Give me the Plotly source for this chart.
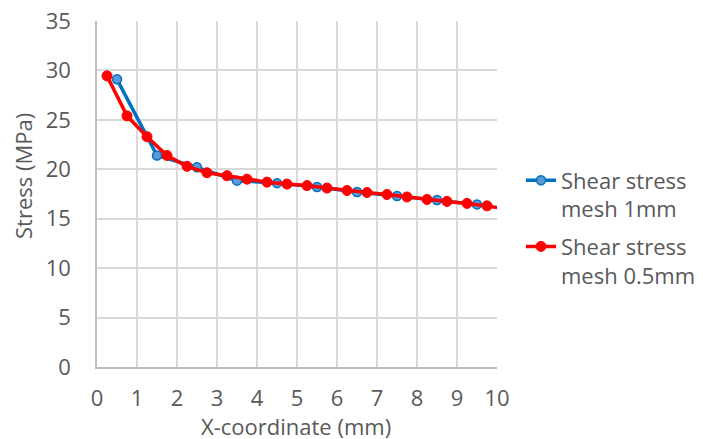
import plotly.graph_objects as go

# Data
x_mesh1 = [0.5, 1.5, 2.5, 3.5, 4.5, 5.5, 6.5, 7.5, 8.5, 9.5]
y_mesh1 = [29.1, 21.4, 20.2, 18.85, 18.6, 18.2, 17.7, 17.3, 16.9, 16.45]

x_mesh05 = [0.25, 0.75, 1.25, 1.75, 2.25, 2.75, 3.25, 3.75, 4.25, 4.75,
            5.25, 5.75, 6.25, 6.75, 7.25, 7.75, 8.25, 8.75, 9.25, 9.75, 10.25]
y_mesh05 = [29.45, 25.4, 23.3, 21.4, 20.3, 19.65, 19.35, 19.0, 18.7, 18.5,
            18.35, 18.1, 17.85, 17.65, 17.45, 17.2, 16.95, 16.75, 16.55, 16.3, 16.0]

series_names = ["Shear stress<br>mesh 1mm", "Shear stress<br>mesh 0.5mm"]
x_ticks = list(range(0, 11))
y_ticks = list(range(0, 36, 5))

FONT = "Open Sans"
FS = 22
GREY = "#595959"
GRID = "#D9D9D9"

fig = go.Figure()
fig.add_trace(go.Scatter(
    x=x_mesh1, y=y_mesh1, name=series_names[0], mode="lines+markers",
    legendgroup="g1",
    line=dict(color="#0070C0", width=3.5),
    marker=dict(size=9, color="#5B9BD5", line=dict(color="#0070C0", width=1.5)),
))
fig.add_trace(go.Scatter(
    x=x_mesh05, y=y_mesh05, name=series_names[1], mode="lines+markers",
    legendgroup="g2",
    line=dict(color="#FF0000", width=3.5),
    marker=dict(size=10, color="#FF0000", line=dict(color="#FF0000", width=1)),
))

fig.update_layout(
    width=695, height=431,
    margin=dict(l=89, r=206, t=13, b=72, autoexpand=False),
    paper_bgcolor="white", plot_bgcolor="white",
    font=dict(family=FONT, size=FS, color=GREY),
    showlegend=True,
    legend=dict(
        x=1.06, xanchor="left", y=0.60, yanchor="top",
        valign="top", tracegroupgap=6,
        font=dict(family=FONT, size=FS, color=GREY),
        bgcolor="rgba(0,0,0,0)",
    ),
    xaxis=dict(
        range=[0, 10], tickvals=x_ticks, showgrid=True, gridcolor=GRID, gridwidth=1.5,
        zeroline=False, showline=True, linecolor="#BFBFBF", linewidth=1.5,
        ticks="", ticklabelstandoff=11, ticklabeloverflow="allow",
        tickfont=dict(family=FONT, size=FS, color=GREY),
    ),
    yaxis=dict(
        range=[0, 35], tickvals=y_ticks, showgrid=True, gridcolor=GRID, gridwidth=1.5,
        zeroline=False, showline=True, linecolor="#BFBFBF", linewidth=1.5,
        ticks="", ticklabelstandoff=20, ticklabeloverflow="allow",
        tickfont=dict(family=FONT, size=FS, color=GREY),
    ),
    annotations=[
        dict(text="X-coordinate (mm)", xref="paper", yref="paper", x=0.497, y=-0.171,
             xanchor="center", yanchor="middle", showarrow=False,
             font=dict(family=FONT, size=FS, color=GREY)),
        dict(text="Stress (MPa)", xref="paper", yref="paper", x=-0.185, y=0.552,
             xanchor="center", yanchor="middle", showarrow=False, textangle=-90,
             font=dict(family=FONT, size=FS, color=GREY)),
    ],
)

fig.write_html("out.html")
